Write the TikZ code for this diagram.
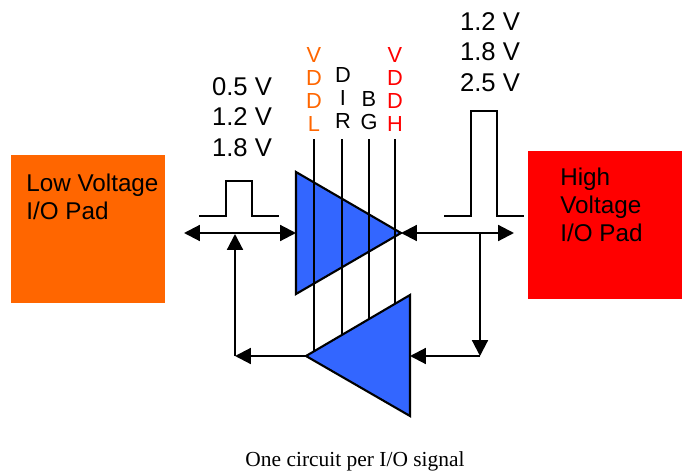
\documentclass[tikz,border=0pt]{standalone}
\usepackage{fontspec}
\setmainfont{Liberation Sans}
\newfontfamily\captionfont{Liberation Serif}
\usetikzlibrary{arrows.meta}
\definecolor{padorange}{HTML}{FF6600}
\definecolor{padred}{HTML}{FF0000}
\definecolor{bufblue}{HTML}{3366FF}
\tikzset{
  wire/.style={line width=1.2pt},
  sig/.style={wire, -{Triangle[length=9pt,width=9pt]}},
  dsig/.style={wire, {Triangle[length=9pt,width=9pt]}-{Triangle[length=9pt,width=9pt]}},
  buf/.style={fill=bufblue, draw, line width=1.2pt, line join=miter},
  pad/.style={anchor=north west, inner sep=0pt, minimum width=3.08cm, minimum height=2.96cm},
  padtext/.style={anchor=west, align=left, inner sep=0pt, font=\fontsize{13.8}{15.9}\selectfont},
  volts/.style={align=center, inner sep=0pt, font=\fontsize{14.6}{17.4}\selectfont},
  rail/.style={anchor=north, align=center, inner sep=0pt, font=\fontsize{12.4}{13.2}\selectfont}
}
\begin{document}
\begin{tikzpicture}[x=0.02cm, y=-0.02cm]
  \useasboundingbox (0,0) rectangle (686,473);

  % Pads
  \node[pad, fill=padorange] (lowpad) at (11,155) {};
  \node[pad, fill=padred] (highpad) at (528,151) {};
  \node[padtext] (lowtext) at (26,197) {Low Voltage\\I/O Pad};
  \node[padtext] (hightext) at (560,205) {High\\Voltage\\I/O Pad};

  % Voltage levels
  \node[volts] (lowvolts) at (242,117) {0.5 V\\1.2 V\\1.8 V};
  \node[volts] (highvolts) at (490,52) {1.2 V\\1.8 V\\2.5 V};

  % Supply labels
  \node[rail, text=padorange] (vddl) at (314,47) {V\\D\\D\\L};
  \node[rail] (dir) at (343,67) {D\\I\\R};
  \node[rail] (bg) at (369,91) {B\\G};
  \node[rail, text=padred] (vddh) at (395,47) {V\\D\\D\\H};

  % Buffer corners
  \coordinate (uptop) at (296,172);
  \coordinate (upbot) at (296,294);
  \coordinate (uptip) at (401,233);
  \coordinate (dntop) at (410,295);
  \coordinate (dnbot) at (410,416);
  \coordinate (dntip) at (306,356);

  % Upper buffer, then the rails, then lower buffer
  \draw[buf] (uptop) -- (uptip) -- (upbot) -- cycle;
  \coordinate (r1) at (314,139);
  \coordinate (r2) at (342,139);
  \coordinate (r3) at (369,139);
  \coordinate (r4) at (395,139);
  \coordinate (e1) at (314,352);
  \coordinate (e2) at (342,336);
  \coordinate (e3) at (369,320);
  \coordinate (e4) at (395,305);
  \draw[wire] (r1) -- (e1);
  \draw[wire] (r2) -- (e2);
  \draw[wire] (r3) -- (e3);
  \draw[wire] (r4) -- (e4);
  \draw[buf] (dntop) -- (dnbot) -- (dntip) -- cycle;

  % Pulses
  \coordinate (lp1) at (199,216);
  \coordinate (lp2) at (226,216);
  \coordinate (lp3) at (226,181);
  \coordinate (lp4) at (252,181);
  \coordinate (lp5) at (252,216);
  \coordinate (lp6) at (279,216);
  \draw[wire] (lp1) -- (lp2) -- (lp3) -- (lp4) -- (lp5) -- (lp6);
  \coordinate (hp1) at (444,216);
  \coordinate (hp2) at (471,216);
  \coordinate (hp3) at (471,111);
  \coordinate (hp4) at (497,111);
  \coordinate (hp5) at (497,216);
  \coordinate (hp6) at (524,216);
  \draw[wire] (hp1) -- (hp2) -- (hp3) -- (hp4) -- (hp5) -- (hp6);

  % Signal arrows
  \coordinate (lowend) at (184,233);
  \coordinate (lowin) at (296,233);
  \coordinate (lowjoin) at (235,234);
  \coordinate (lowturn) at (235,356);
  \coordinate (highend) at (514,233);
  \coordinate (highjoin) at (480,233);
  \coordinate (highturn) at (480,356);
  \coordinate (dnin) at (410,356);
  \draw[dsig] (lowend) -- (lowin);
  \draw[dsig] (uptip) -- (highend);
  \draw[sig] (highjoin) -- (highturn);
  \draw[sig] (highturn) -- (dnin);
  \draw[sig] (dntip) -- (lowturn);
  \draw[sig] (lowturn) -- (lowjoin);

  \node[inner sep=0pt, font=\captionfont\fontsize{12.2}{14}\selectfont] (caption) at (355,461) {One circuit per I/O signal};
\end{tikzpicture}
\end{document}
